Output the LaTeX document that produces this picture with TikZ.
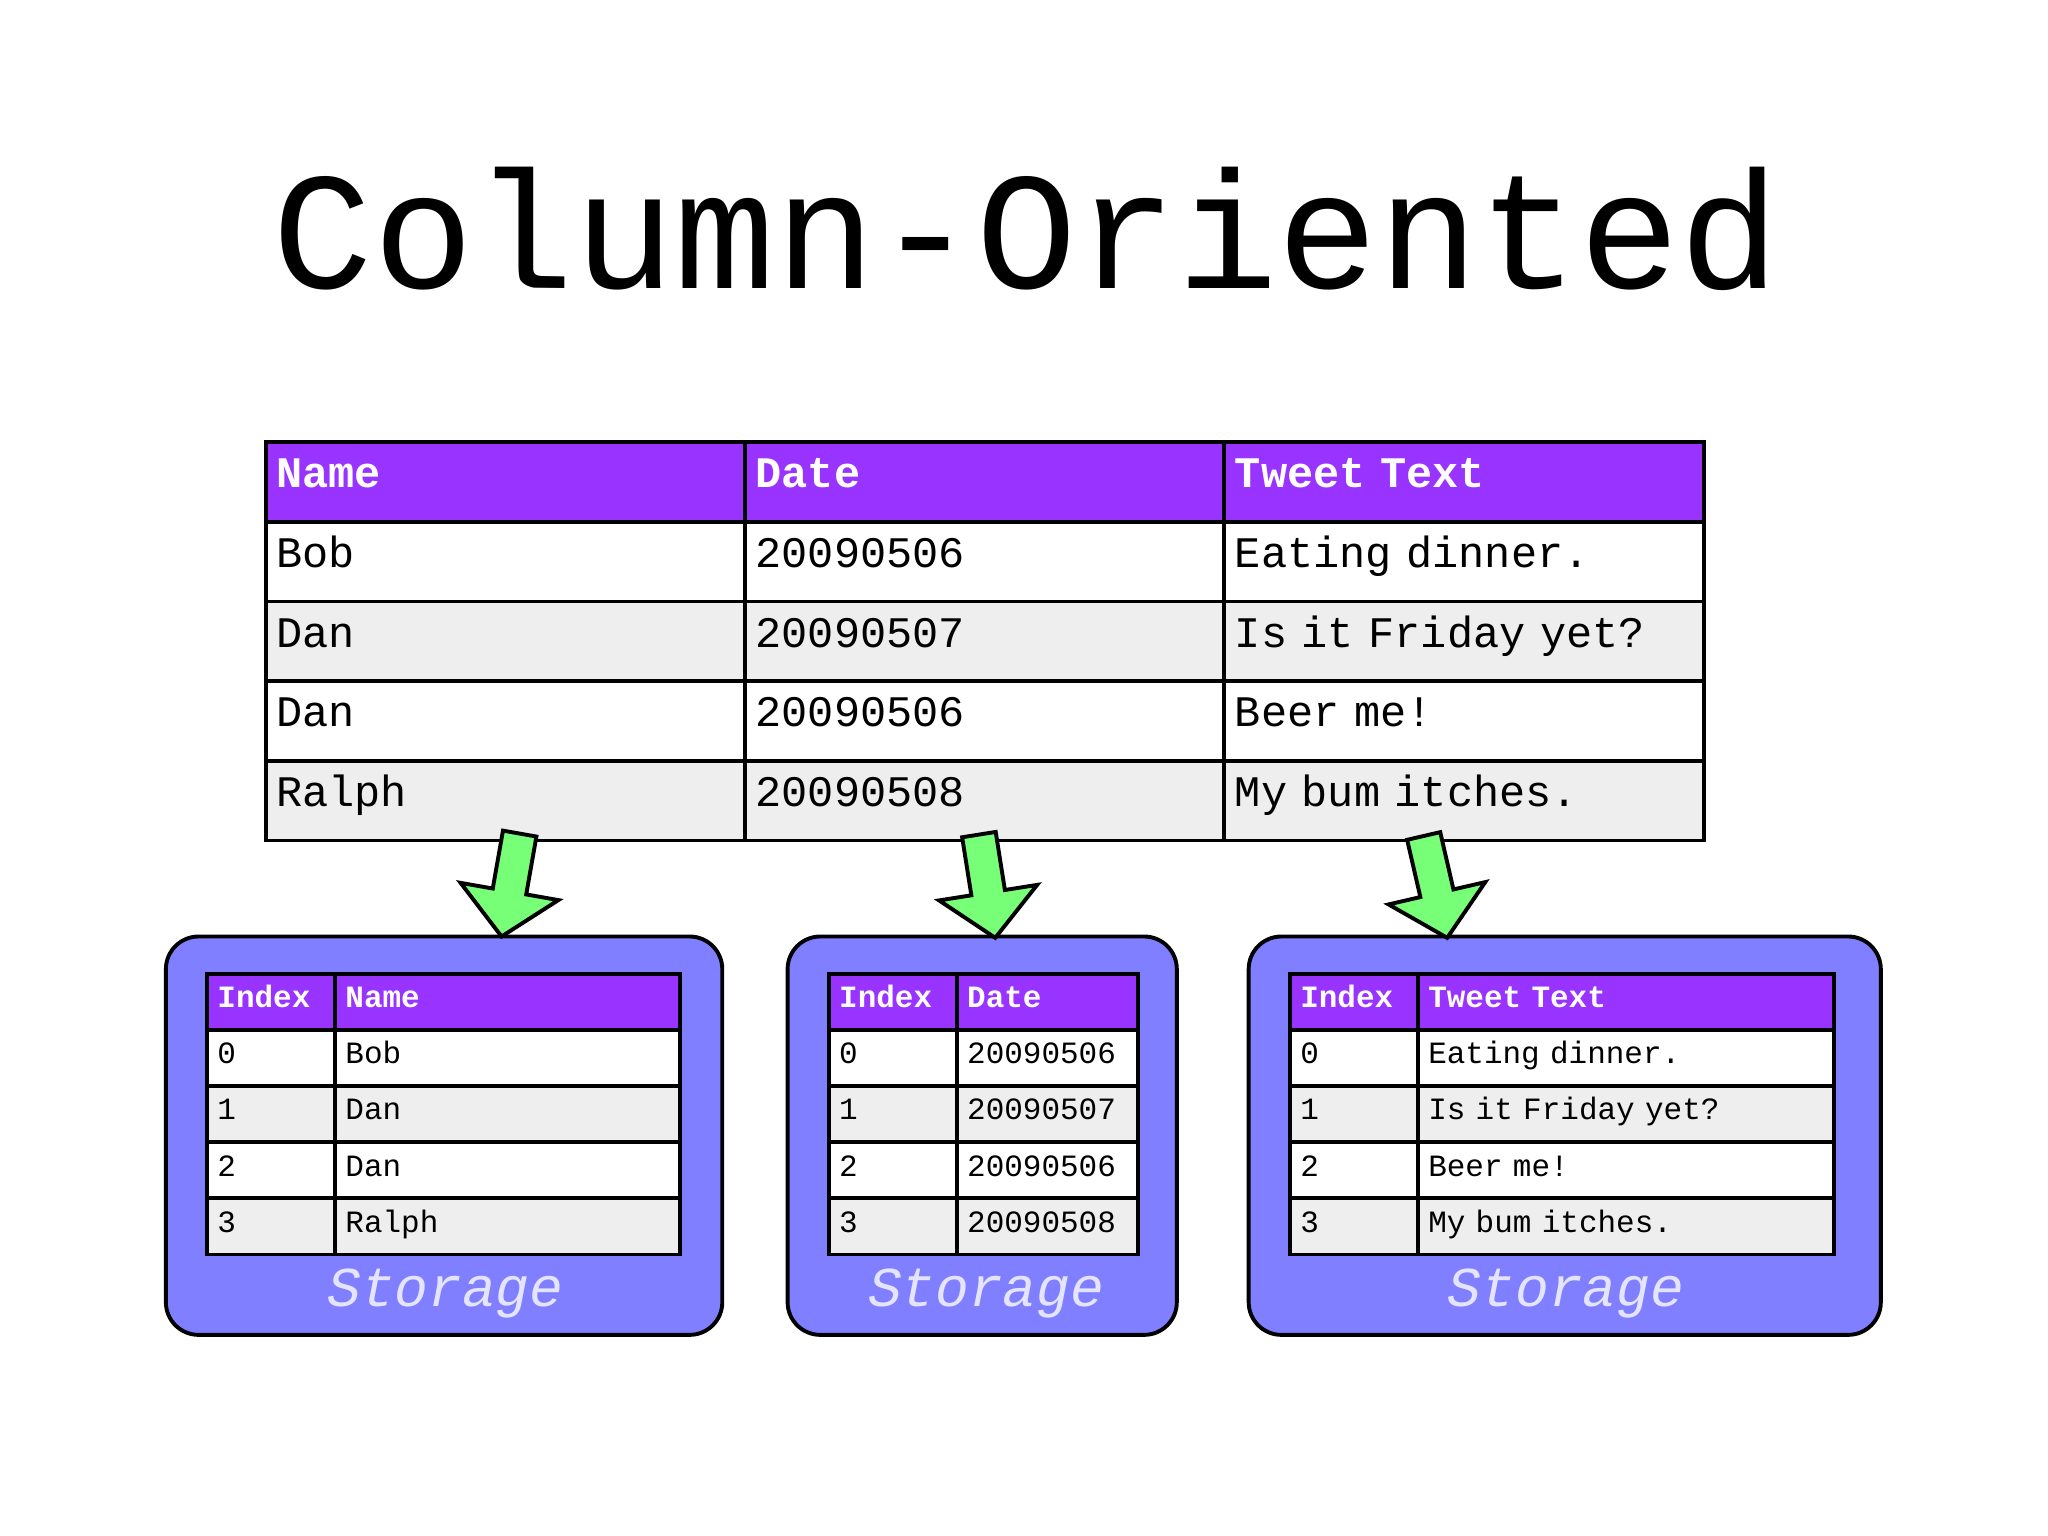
\documentclass[tikz,border=0pt]{standalone}
\usepackage{fontspec}
\setmonofont{Liberation Mono}
\frenchspacing
\definecolor{hdr}{HTML}{9933FF}
\definecolor{rowgray}{HTML}{EEEEEE}
\definecolor{store}{HTML}{7F7FFF}
\definecolor{arrowgreen}{HTML}{77FF77}
\definecolor{storetext}{HTML}{E4E4FF}
% fixed-width spaces for the mono font
\newcommand{\monospace}{\fontdimen2\font=0.6em \fontdimen3\font=0pt \fontdimen4\font=0pt \fontdimen7\font=0pt}
\tikzset{
  cell/.style={draw=black, line width=1.7pt, anchor=north west, align=left,
    inner xsep=0.16cm, inner ysep=0pt, text height=0.72em, text depth=0.22em},
  bigcell/.style={cell, minimum height=1.22cm, text width=7.02cm, font=\ttfamily\fontsize{19}{19}\selectfont\monospace},
  smallcell/.style={cell, minimum height=0.86cm, font=\ttfamily\fontsize{13.5}{13.5}\selectfont\monospace},
  storebox/.style={draw=black, line width=1.7pt, fill=store, rounded corners=0.5cm},
  downarrow/.style={draw=black, line width=1.7pt, fill=arrowgreen, line join=miter}
}
% one small table inside a storage box
\newcommand{\storetable}[6]{%
  \node[smallcell, fill=hdr, text=white, text width=1.64cm] (#1-h1) at (#2,744) {\textbf{Index}};
  \node[smallcell, fill=hdr, text=white, text width=#4cm] (#1-h2) at (#3,744) {\bfseries\monospace #5};
  \foreach \v [count=\i from 0] in {#6} {
    \ifodd\i \def\rowfill{rowgray}\else \def\rowfill{white}\fi
    \node[smallcell, fill=\rowfill, text width=1.64cm] (#1-\i-1) at (#2,787+43*\i) {\i};
    \node[smallcell, fill=\rowfill, text width=#4cm] (#1-\i-2) at (#3,787+43*\i) {\v};
  }
}
\newcommand{\greenarrow}[3]{%
  \begin{scope}[shift={(#1,#2)}, rotate=#3]
    \draw[downarrow] (-13,-80) -- (13,-80) -- (13,-35) -- (38,-35) -- (0,0)
      -- (-38,-35) -- (-13,-35) -- cycle;
  \end{scope}
}
\begin{document}
\begin{tikzpicture}[x=0.02cm, y=-0.02cm]
  \useasboundingbox[fill=white] (0,0) rectangle (1568,1176);

  \node[font=\ttfamily\fontsize{73}{73}\selectfont] (title) at (786,175) {Column-Oriented};

  % main table
  \node[bigcell, fill=hdr, text=white] (h-1) at (202,337) {\textbf{Name}};
  \node[bigcell, fill=hdr, text=white] (h-2) at (569,337) {\textbf{Date}};
  \node[bigcell, fill=hdr, text=white] (h-3) at (936,337) {\bfseries\monospace Tweet Text};
  \foreach \n/\d/\t [count=\i] in {Bob/20090506/Eating dinner.,
      Dan/20090507/Is it Friday yet?, Dan/20090506/Beer me!,
      Ralph/20090508/My bum itches.} {
    \ifodd\i \def\rowfill{white}\else \def\rowfill{rowgray}\fi
    \node[bigcell, fill=\rowfill] (r\i-1) at (202,337+61*\i) {\n};
    \node[bigcell, fill=\rowfill] (r\i-2) at (569,337+61*\i) {\d};
    \node[bigcell, fill=\rowfill] (r\i-3) at (936,337+61*\i) {\t};
  }

  % storage boxes
  \draw[storebox] (127,717) rectangle (553,1022);
  \draw[storebox] (603,717) rectangle (901,1022);
  \draw[storebox] (956,717) rectangle (1440,1022);
  \storetable{sa}{157}{255}{4.96}{Name}{Bob,Dan,Dan,Ralph}
  \storetable{sb}{633}{731}{2.46}{Date}{20090506,20090507,20090506,20090508}
  \storetable{sc}{986}{1084}{6.06}{Tweet Text}{Eating dinner.,Is it Friday yet?,Beer me!,My bum itches.}
  \foreach \x/\lbl in {341/sa, 755/sb, 1199/sc}
    \node[font=\ttfamily\itshape\fontsize{24.5}{24.5}\selectfont, text=storetext] (\lbl-s) at (\x,990) {Storage};

  % arrows
  \greenarrow{384}{717}{-10}
  \greenarrow{762}{718}{9}
  \greenarrow{1108}{718}{13}
\end{tikzpicture}
\end{document}
